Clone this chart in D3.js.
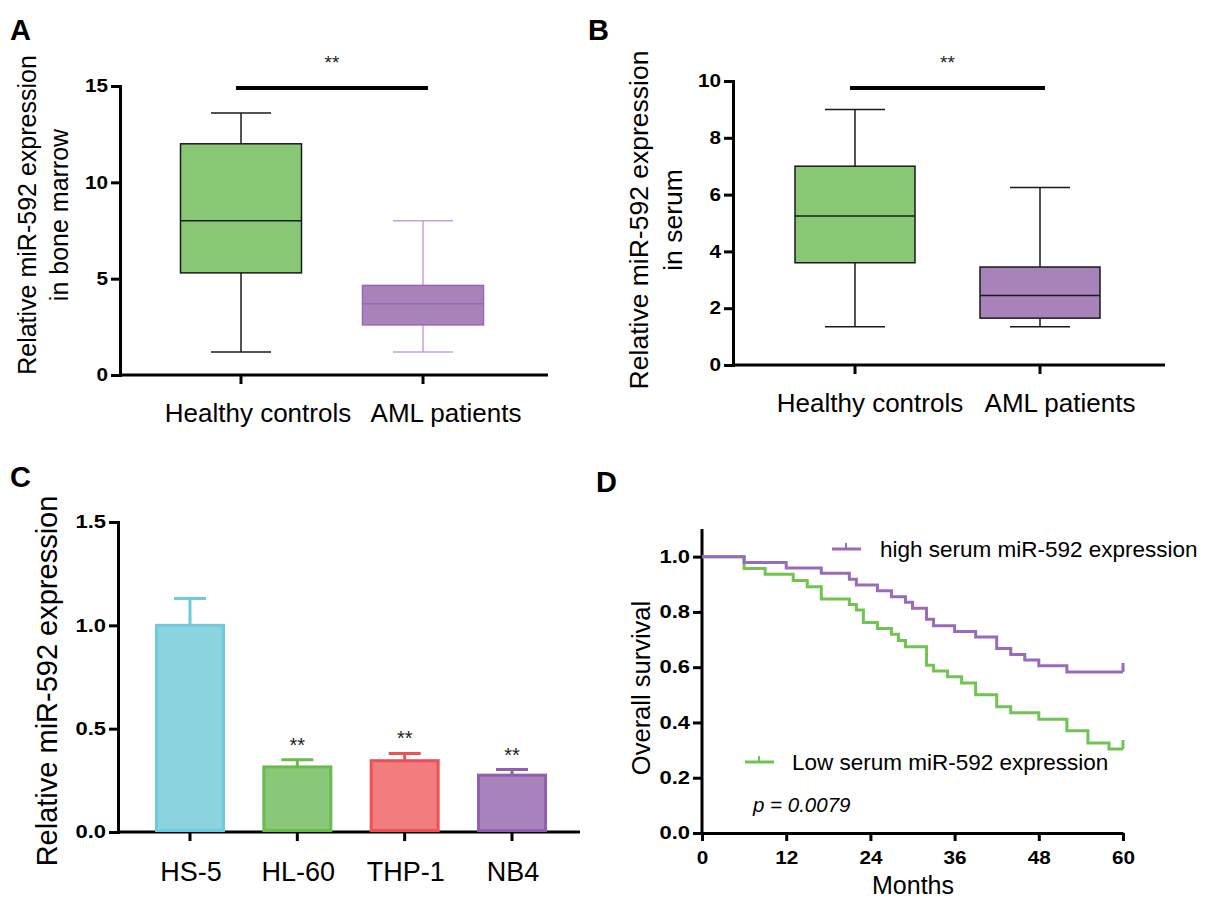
<!DOCTYPE html>
<html><head><meta charset="utf-8">
<script src="https://cdn.jsdelivr.net/npm/d3@7"></script>
<style>body{margin:0;background:#fff}svg{display:block}text{font-family:"Liberation Sans",Arial,sans-serif}</style>
</head><body>
<svg id="c" width="1208" height="901"></svg>
<script>
// ---------- DATA ----------
const boxCats = ["Healthy controls", "AML patients"];
// [whiskerLow, q1, median, q3, whiskerHigh]
const boxA = [[1.2, 5.3, 8.0, 12.0, 13.6], [1.2, 2.6, 3.7, 4.65, 8.0]];
const boxB = [[1.35, 3.6, 5.25, 7.0, 9.0], [1.35, 1.65, 2.45, 3.45, 6.25]];
const ticksA = [0, 5, 10, 15];
const ticksB = [0, 2, 4, 6, 8, 10];

const cellLines = ["HS-5", "HL-60", "THP-1", "NB4"];
const cellMeans = [1.0, 0.315, 0.345, 0.275];
const cellErr = [0.13, 0.035, 0.035, 0.027];
const cellSig = ["", "**", "**", "**"];
const ticksC = [0.0, 0.5, 1.0, 1.5];

const highTimes = [0, 6, 12, 17, 21, 22, 25, 27, 29, 30, 32, 33, 36, 39, 42, 44, 46, 48, 52, 60];
const highSurv = [1.0, 0.979, 0.959, 0.940, 0.918, 0.897, 0.877, 0.855, 0.835, 0.813, 0.773, 0.750, 0.729, 0.709, 0.668, 0.646, 0.626, 0.605, 0.583, 0.583];
const lowTimes = [0, 6, 9, 13, 15, 17, 21, 22, 23, 25, 27, 28, 29, 32, 33, 35, 37, 39, 42, 44, 48, 52, 55, 58, 60];
const lowSurv = [1.0, 0.957, 0.936, 0.914, 0.891, 0.847, 0.827, 0.807, 0.762, 0.740, 0.719, 0.697, 0.674, 0.607, 0.586, 0.565, 0.543, 0.500, 0.457, 0.435, 0.412, 0.370, 0.326, 0.304, 0.304];
const ticksDx = [0, 12, 24, 36, 48, 60];
const ticksDy = [0.0, 0.2, 0.4, 0.6, 0.8, 1.0];

// ---------- HELPERS ----------
const svg = d3.select("#c");
const F = '"Liberation Sans",Arial,sans-serif';

function stretch(sel, sx) {
  sel.each(function () {
    const t = d3.select(this);
    const ax = +t.attr("x") || 0, ay = +t.attr("y") || 0;
    t.attr("transform", `translate(${ax},${ay}) scale(${sx},1) translate(${-ax},${-ay})`);
  });
}

function panelLabel(t, x, y) {
  svg.append("text").attr("x", x).attr("y", y).text(t)
    .attr("font-size", 29).attr("font-weight", "bold").attr("fill", "#000");
}

function styleTicks(a, sx) {
  a.select(".domain").attr("stroke", "#000").attr("stroke-width", 3);
  a.selectAll(".tick line").attr("stroke", "#000").attr("stroke-width", 3);
  const tt = a.selectAll(".tick text").attr("font-size", 18).attr("font-weight", "bold").attr("font-family", F).attr("fill", "#000");
  stretch(tt, sx);
}
function yAxis(g, y, x0, ticks, fmt, sx) {
  const ax = d3.axisLeft(y).tickValues(ticks).tickFormat(fmt).tickSize(9).tickPadding(3);
  const a = g.append("g").attr("transform", `translate(${x0},0)`).call(ax);
  styleTicks(a, sx);
  return a;
}
function xAxis(g, x, y0, ticks, fmt, sx) {
  const ax = d3.axisBottom(x).tickSize(8).tickSizeOuter(0).tickPadding(6).tickValues(ticks).tickFormat(fmt);
  const a = g.append("g").attr("transform", `translate(0,${y0})`).call(ax);
  a.selectAll(".tick text").attr("dy", "0.95em");
  styleTicks(a, sx);
  return a;
}

function boxPanel(opt) {
  const g = svg.append("g");
  const y = d3.scaleLinear().domain(opt.ydom).range(opt.yrange);
  const x = d3.scalePoint().domain(boxCats).range(opt.xcat);
  yAxis(g, y, opt.x0, opt.ticks, d3.format("d"), 1.15);
  g.append("line").attr("x1", opt.x0).attr("x2", opt.xend).attr("y1", y(0)).attr("y2", y(0))
    .attr("stroke", "#000").attr("stroke-width", 3);
  boxCats.forEach((c, i) => {
    g.append("line").attr("x1", x(c)).attr("x2", x(c)).attr("y1", y(0)).attr("y2", y(0) + 9)
      .attr("stroke", "#000").attr("stroke-width", 3);
    g.append("text").attr("x", x(c) + opt.labelDx[i]).attr("y", y(0) + 47).attr("text-anchor", "middle")
      .attr("font-size", 26).attr("fill", "#000").text(c);
    const d = opt.data[i], st = opt.styles[i];
    const bw = opt.bw, cw = opt.cw, cx = x(c);
    g.append("line").attr("x1", cx).attr("x2", cx).attr("y1", y(d[0])).attr("y2", y(d[1])).attr("stroke", st.wh).attr("stroke-width", 1.5);
    g.append("line").attr("x1", cx).attr("x2", cx).attr("y1", y(d[3])).attr("y2", y(d[4])).attr("stroke", st.wh).attr("stroke-width", 1.5);
    g.append("line").attr("x1", cx - cw / 2).attr("x2", cx + cw / 2).attr("y1", y(d[0])).attr("y2", y(d[0])).attr("stroke", st.wh).attr("stroke-width", 1.5);
    g.append("line").attr("x1", cx - cw / 2).attr("x2", cx + cw / 2).attr("y1", y(d[4])).attr("y2", y(d[4])).attr("stroke", st.wh).attr("stroke-width", 1.5);
    g.append("rect").attr("x", cx - bw / 2).attr("width", bw).attr("y", y(d[3])).attr("height", y(d[1]) - y(d[3]))
      .attr("fill", st.fill).attr("stroke", st.stroke).attr("stroke-width", 1.5);
    g.append("line").attr("x1", cx - bw / 2).attr("x2", cx + bw / 2).attr("y1", y(d[2])).attr("y2", y(d[2]))
      .attr("stroke", st.stroke).attr("stroke-width", 1.5);
  });
  g.append("line").attr("x1", x(boxCats[0]) - 5).attr("x2", x(boxCats[1]) + 5)
    .attr("y1", opt.sigY).attr("y2", opt.sigY).attr("stroke", "#000").attr("stroke-width", 4);
  g.append("text").attr("x", (x(boxCats[0]) + x(boxCats[1])) / 2).attr("y", opt.sigY - 19)
    .attr("text-anchor", "middle").attr("font-size", 19).attr("fill", "#222").text("**");
  const t = g.append("text").attr("transform", `translate(${opt.titleX},${opt.titleY}) rotate(-90)`).attr("text-anchor", "middle")
    .attr("font-size", opt.titleSize).attr("fill", "#000");
  t.append("tspan").attr("x", 0).attr("dy", 0).text("Relative miR-592 expression");
  t.append("tspan").attr("x", 0).attr("dy", opt.titleSize * 1.28).text(opt.title2);
}

// ---------- PANEL A ----------
panelLabel("A", 10, 40);
boxPanel({
  ydom: [0, 15], yrange: [375, 86], x0: 120, xend: 548, xcat: [241, 423], ticks: ticksA,
  data: boxA, bw: 121, cw: 60, labelDx: [17, 23],
  styles: [{ fill: "#88c874", stroke: "#1a1a1a", wh: "#1a1a1a" }, { fill: "#a883ba", stroke: "#9a66b8", wh: "#c7a0dc" }],
  sigY: 88, titleX: 36, titleY: 215, titleSize: 25, title2: "in bone marrow"
});

// ---------- PANEL B ----------
panelLabel("B", 588, 40);
boxPanel({
  ydom: [0, 10], yrange: [365, 81], x0: 733, xend: 1165, xcat: [855, 1040], ticks: ticksB,
  data: boxB, bw: 120, cw: 60, labelDx: [15, 20],
  styles: [{ fill: "#88c874", stroke: "#1a1a1a", wh: "#1a1a1a" }, { fill: "#a883ba", stroke: "#1a1a1a", wh: "#1a1a1a" }],
  sigY: 88, titleX: 648, titleY: 220, titleSize: 26.5, title2: "in serum"
});

// ---------- PANEL C ----------
panelLabel("C", 10, 487);
(function () {
  const g = svg.append("g");
  const y = d3.scaleLinear().domain([0, 1.5]).range([832, 522]);
  const x = d3.scaleBand().domain(cellLines).range([155, 547]).paddingInner(0.348).paddingOuter(0);
  yAxis(g, y, 118, ticksC, d3.format(".1f"), 1.22);
  g.append("line").attr("x1", 118).attr("x2", 580).attr("y1", y(0)).attr("y2", y(0)).attr("stroke", "#000").attr("stroke-width", 3);
  const fills = ["#8bd4df", "#88c878", "#f37c7e", "#a882ba"];
  const strokes = ["#6fcadb", "#6bbb4f", "#ea5258", "#9060ac"];
  cellLines.forEach((c, i) => {
    const cx = x(c) + x.bandwidth() / 2;
    g.append("line").attr("x1", cx).attr("x2", cx).attr("y1", y(0)).attr("y2", y(0) + 9).attr("stroke", "#000").attr("stroke-width", 3);
    g.append("text").attr("x", cx + 1).attr("y", y(0) + 49).attr("text-anchor", "middle").attr("font-size", 27).attr("fill", "#000").text(c);
    g.append("line").attr("x1", cx).attr("x2", cx).attr("y1", y(cellMeans[i])).attr("y2", y(cellMeans[i] + cellErr[i])).attr("stroke", strokes[i]).attr("stroke-width", 3);
    g.append("line").attr("x1", cx - 16).attr("x2", cx + 16).attr("y1", y(cellMeans[i] + cellErr[i])).attr("y2", y(cellMeans[i] + cellErr[i])).attr("stroke", strokes[i]).attr("stroke-width", 3);
    g.append("rect").attr("x", x(c) + 1.5).attr("width", x.bandwidth() - 3).attr("y", y(cellMeans[i])).attr("height", y(0) - y(cellMeans[i]) - 1.5)
      .attr("fill", fills[i]).attr("stroke", strokes[i]).attr("stroke-width", 3);
    if (cellSig[i]) g.append("text").attr("x", cx).attr("y", y(cellMeans[i] + cellErr[i]) - 8).attr("text-anchor", "middle")
      .attr("font-size", 20).attr("fill", "#222").text(cellSig[i]);
  });
  g.append("text").attr("transform", `translate(57,681) rotate(-90)`).attr("text-anchor", "middle")
    .attr("font-size", 29).attr("fill", "#000").text("Relative miR-592 expression");
})();

// ---------- PANEL D ----------
panelLabel("D", 596, 492);
(function () {
  const g = svg.append("g");
  const x = d3.scaleLinear().domain([0, 60]).range([702, 1123]);
  const y = d3.scaleLinear().domain([0, 1.1]).range([833, 529]);
  const ya = yAxis(g, y, 702, ticksDy, d3.format(".1f"), 1.22);
  ya.select(".domain").attr("d", `M0,${y(1.1)}V${y(0)}`);
  xAxis(g, x, y(0), ticksDx, d3.format("d"), 1.15);
  const purple = "#9a6bbb", green = "#72c452";
  const line = d3.line().x(d => x(d[0])).y(d => y(d[1])).curve(d3.curveStepAfter);
  const hi = highTimes.map((t, i) => [t, highSurv[i]]);
  const lo = lowTimes.map((t, i) => [t, lowSurv[i]]);
  g.append("path").attr("d", line(lo)).attr("fill", "none").attr("stroke", green).attr("stroke-width", 3);
  g.append("path").attr("d", line(hi)).attr("fill", "none").attr("stroke", purple).attr("stroke-width", 3);
  [[hi, purple], [lo, green]].forEach(([s, col]) => {
    const last = s[s.length - 1];
    g.append("line").attr("x1", x(last[0])).attr("x2", x(last[0])).attr("y1", y(last[1])).attr("y2", y(last[1]) - 9)
      .attr("stroke", col).attr("stroke-width", 3);
  });
  const leg = [{ x1: 832, y: 549, col: purple, t: "high serum miR-592 expression", tx: 880 },
               { x1: 745, y: 762, col: green, t: "Low serum miR-592 expression", tx: 792 }];
  leg.forEach(l => {
    g.append("line").attr("x1", l.x1).attr("x2", l.x1 + 29).attr("y1", l.y).attr("y2", l.y).attr("stroke", l.col).attr("stroke-width", 3);
    g.append("line").attr("x1", l.x1 + 14).attr("x2", l.x1 + 14).attr("y1", l.y).attr("y2", l.y - 6).attr("stroke", l.col).attr("stroke-width", 2);
    g.append("text").attr("x", l.tx).attr("y", l.y + 8).attr("font-size", 22.5).attr("fill", "#000").text(l.t);
  });
  g.append("text").attr("x", 753).attr("y", 812).attr("font-size", 20.5).attr("font-style", "italic").attr("fill", "#000").text("p = 0.0079");
  g.append("text").attr("x", 913).attr("y", 894).attr("text-anchor", "middle").attr("font-size", 25).attr("fill", "#000").text("Months");
  g.append("text").attr("transform", `translate(650,688) rotate(-90)`).attr("text-anchor", "middle")
    .attr("font-size", 25.5).attr("fill", "#000").text("Overall survival");
})();
</script>
</body></html>
